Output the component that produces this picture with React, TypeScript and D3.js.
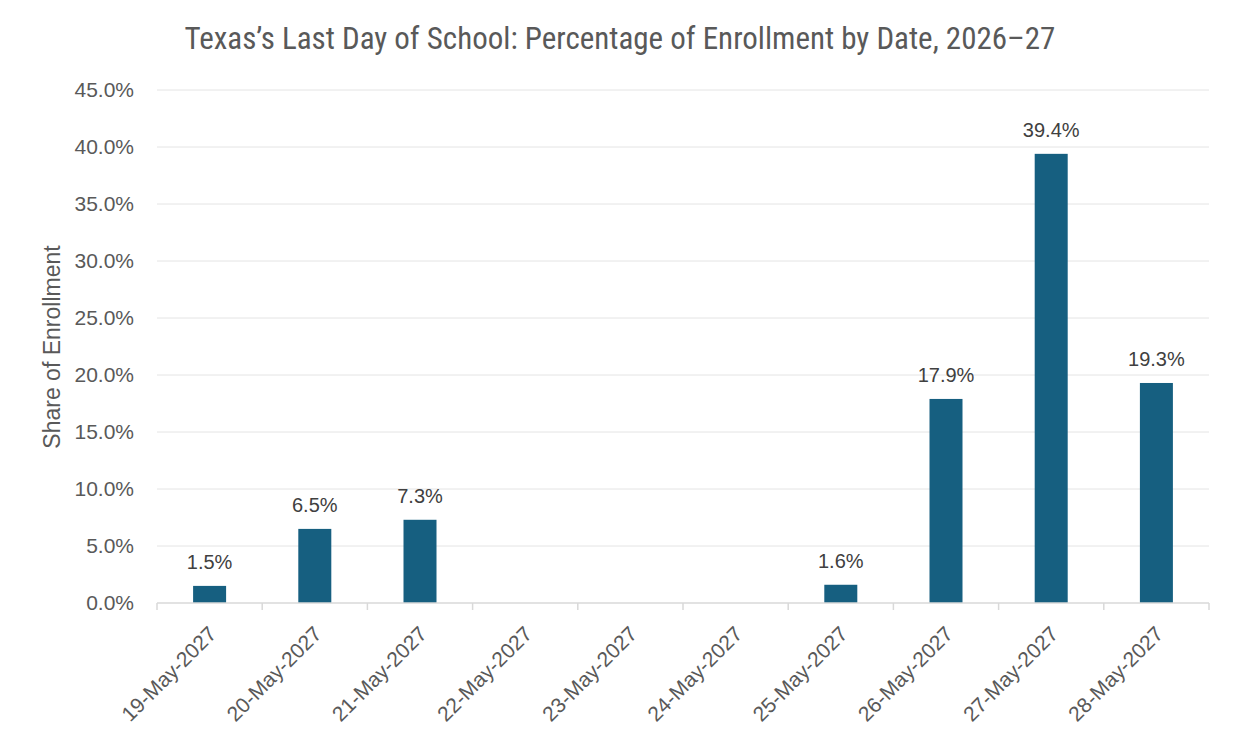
import { useEffect, useRef } from 'react';
import * as d3 from 'd3';

const dates = [
  '19-May-2027', '20-May-2027', '21-May-2027', '22-May-2027', '23-May-2027',
  '24-May-2027', '25-May-2027', '26-May-2027', '27-May-2027', '28-May-2027',
];
const shares = [1.5, 6.5, 7.3, 0, 0, 0, 1.6, 17.9, 39.4, 19.3];
const yTicks = [0, 5, 10, 15, 20, 25, 30, 35, 40, 45];

const W = 1240;
const H = 749;

export default function App() {
  const svgRef = useRef<SVGSVGElement>(null);

  useEffect(() => {
    if (!svgRef.current) return;
    const svg = d3.select(svgRef.current);
    svg.selectAll('*').remove();

    const left = 157, right = 1209, top = 90, bottom = 603;
    const sans = '"Liberation Sans", Arial, sans-serif';

    const x = d3.scaleBand<string>().domain(dates).range([left, right]);
    const y = d3.scaleLinear().domain([0, 45]).range([bottom, top]);
    const barW = 33;

    // title
    svg.append('text')
      .attr('x', 620)
      .attr('y', 49)
      .attr('text-anchor', 'middle')
      .attr('font-family', '"Liberation Sans Narrow", "Roboto Condensed", Roboto, sans-serif')
      .attr('font-size', 31)
      .attr('fill', '#595959')
      .text('Texas’s Last Day of School: Percentage of Enrollment by Date, 2026–27');

    // gridlines
    svg.append('g')
      .selectAll('line')
      .data(yTicks.filter(d => d > 0))
      .join('line')
      .attr('x1', left)
      .attr('x2', right)
      .attr('y1', d => y(d))
      .attr('y2', d => y(d))
      .attr('stroke', '#e4e4e4')
      .attr('stroke-width', 1);

    // y tick labels
    svg.append('g')
      .selectAll('text')
      .data(yTicks)
      .join('text')
      .attr('x', 134)
      .attr('y', d => y(d))
      .attr('dy', '0.35em')
      .attr('text-anchor', 'end')
      .attr('font-family', sans)
      .attr('font-size', 21)
      .attr('fill', '#595959')
      .text(d => d3.format('.1f')(d) + '%');

    // y axis title
    svg.append('text')
      .attr('transform', `translate(60,347) rotate(-90)`)
      .attr('text-anchor', 'middle')
      .attr('font-family', sans)
      .attr('font-size', 23)
      .attr('fill', '#595959')
      .text('Share of Enrollment');

    // bars
    svg.append('g')
      .selectAll('rect')
      .data(dates)
      .join('rect')
      .attr('x', d => x(d)! + x.bandwidth() / 2 - barW / 2)
      .attr('width', barW)
      .attr('y', (d, i) => y(shares[i]))
      .attr('height', (d, i) => bottom - y(shares[i]))
      .attr('fill', '#165f80');

    // data labels
    svg.append('g')
      .selectAll('text')
      .data(dates.filter((d, i) => shares[i] > 0))
      .join('text')
      .attr('x', d => x(d)! + x.bandwidth() / 2)
      .attr('y', d => y(shares[dates.indexOf(d)]) - 17)
      .attr('text-anchor', 'middle')
      .attr('font-family', sans)
      .attr('font-size', 20)
      .attr('fill', '#404040')
      .text(d => shares[dates.indexOf(d)].toFixed(1) + '%');

    // x axis line and ticks
    const axis = svg.append('g');
    axis.append('line')
      .attr('x1', left).attr('x2', right)
      .attr('y1', bottom).attr('y2', bottom)
      .attr('stroke', '#d9d9d9').attr('stroke-width', 1.5);
    axis.selectAll('line.tick')
      .data([...dates.map(d => x(d)!), right])
      .join('line')
      .attr('class', 'tick')
      .attr('x1', d => d).attr('x2', d => d)
      .attr('y1', bottom).attr('y2', bottom + 7)
      .attr('stroke', '#d9d9d9').attr('stroke-width', 1.5);

    // x labels
    axis.selectAll('text')
      .data(dates)
      .join('text')
      .attr('transform', d => `translate(${x(d)! + x.bandwidth() / 2 + 3},${bottom + 27}) rotate(-45)`)
      .attr('text-anchor', 'end')
      .attr('dy', '0.35em')
      .attr('font-family', sans)
      .attr('font-size', 21)
      .attr('fill', '#595959')
      .text(d => d);
  }, []);

  return (
    <svg
      ref={svgRef}
      width={W}
      height={H}
      style={{ position: 'absolute', left: 0, top: 0, background: '#fff' }}
    />
  );
}
